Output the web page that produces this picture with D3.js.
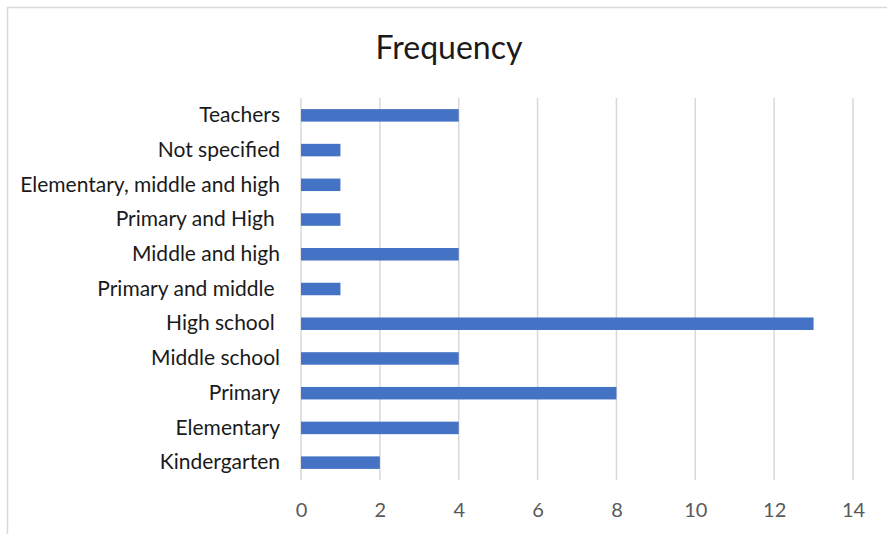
<!DOCTYPE html>
<html>
<head>
<meta charset="utf-8">
<script src="https://cdn.jsdelivr.net/npm/d3@7"></script>
<style>
  html, body { margin: 0; padding: 0; background: #fff; }
  svg { display: block; font-family: Lato, "Open Sans", sans-serif; }
  svg text { white-space: pre; }
</style>
</head>
<body>
<svg id="chart" width="887" height="534"></svg>
<script>
// categories top to bottom, as shown
const categories = [
  "Teachers", "Not specified", "Elementary, middle and high", "Primary and High ",
  "Middle and high", "Primary and middle ", "High school ", "Middle school",
  "Primary", "Elementary", "Kindergarten"
];
const frequency = [4, 1, 1, 1, 4, 1, 13, 4, 8, 4, 2];
const xTicks = [0, 2, 4, 6, 8, 10, 12, 14];
const title = "Frequency";

const W = 887, H = 534;
const plot = { left: 301, right: 853, top: 98, bottom: 480 };

const svg = d3.select("#chart");

// chart frame (Excel chart area border)
svg.append("rect")
  .attr("x", 7.5).attr("y", 7.5)
  .attr("width", W + 10).attr("height", H + 10)
  .attr("fill", "#fff")
  .attr("stroke", "#d9d9d9").attr("stroke-width", 1.5);

const x = d3.scaleLinear().domain([0, 14]).range([plot.left, plot.right]);
const y = d3.scaleBand().domain(categories).range([plot.top, plot.bottom]).paddingInner(0.64).paddingOuter(0.32);

// gridlines
svg.append("g")
  .selectAll("line")
  .data(xTicks)
  .join("line")
    .attr("x1", d => x(d)).attr("x2", d => x(d))
    .attr("y1", plot.top).attr("y2", plot.bottom)
    .attr("stroke", "#d9d9d9").attr("stroke-width", 1.5);

// bars
svg.append("g")
  .selectAll("rect")
  .data(categories)
  .join("rect")
    .attr("x", x(0))
    .attr("y", d => y(d))
    .attr("width", (d, i) => x(frequency[i]) - x(0))
    .attr("height", y.bandwidth())
    .attr("fill", "#4472c4");

// category axis
const yAxis = svg.append("g")
  .attr("transform", `translate(${plot.left},0)`)
  .call(d3.axisLeft(y).tickSize(0).tickPadding(21));
yAxis.select(".domain").remove();
yAxis.selectAll("text")
  .attr("font-size", 21)
  .attr("font-family", "Lato, sans-serif")
  .attr("fill", "#1a1a1a");

// value axis
const xAxis = svg.append("g")
  .attr("transform", `translate(0,${plot.bottom})`)
  .call(d3.axisBottom(x).tickValues(xTicks).tickSize(0).tickPadding(23));
xAxis.select(".domain").remove();
xAxis.selectAll("text")
  .attr("font-size", 20)
  .attr("font-family", "Lato, sans-serif")
  .attr("fill", "#595959");

// title
svg.append("text")
  .attr("x", 449).attr("y", 59)
  .attr("text-anchor", "middle")
  .attr("font-size", 32)
  .attr("font-family", "Lato, sans-serif")
  .attr("fill", "#1a1a1a")
  .text(title);
</script>
</body>
</html>
